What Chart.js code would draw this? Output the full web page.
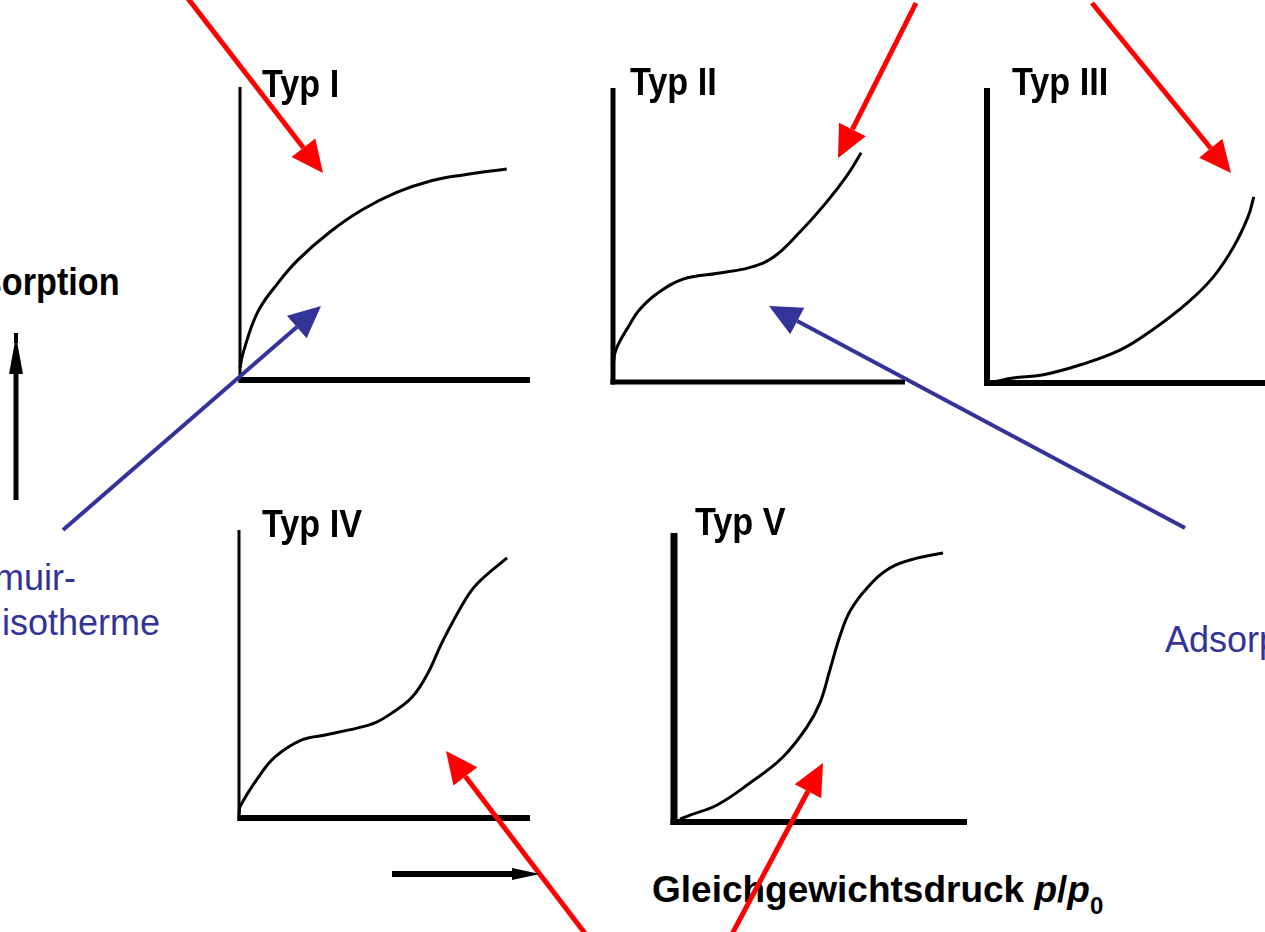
<!DOCTYPE html>
<html lang="de">
<head>
<meta charset="utf-8">
<title>Adsorptionsisothermen</title>
<script src="https://cdn.jsdelivr.net/npm/chart.js@4/dist/chart.umd.min.js"></script>
<style>
  html, body { margin: 0; padding: 0; background: #fff; }
  #bühne { position: relative; width: 1265px; height: 932px; overflow: hidden; background: #fff; }
  .panel { position: absolute; }
  .panel canvas { display: block; }
  .txt { position: absolute; white-space: nowrap; line-height: 1; font-family: "Liberation Sans", Arial, sans-serif; }
  .titel { font-size: 38px; font-weight: bold; color: #000; transform: scaleX(0.9); transform-origin: left top; }
  .blau { font-size: 36px; color: #333399; }
  #pfeile { position: absolute; left: 0; top: 0; z-index: 5; pointer-events: none; }
</style>
</head>
<body>
<div id="bühne">
  <div class="panel" id="p1"><canvas id="typ1"></canvas></div>
  <div class="panel" id="p2"><canvas id="typ2"></canvas></div>
  <div class="panel" id="p3"><canvas id="typ3"></canvas></div>
  <div class="panel" id="p4"><canvas id="typ4"></canvas></div>
  <div class="panel" id="p5"><canvas id="typ5"></canvas></div>

  <div class="txt titel" style="left:262px; top:65px;">Typ I</div>
  <div class="txt titel" style="left:630px; top:63px;">Typ II</div>
  <div class="txt titel" style="left:1012px; top:63px;">Typ III</div>
  <div class="txt titel" style="left:262px; top:505px;">Typ IV</div>
  <div class="txt titel" style="left:695px; top:503px;">Typ V</div>

  <div class="txt titel" style="right:1145px; top:263px; transform-origin:right top;">Adsorption</div>
  <div class="txt titel" style="left:652px; top:871px; font-size:37px; transform:none;">Gleichgewichtsdruck <i>p</i>/<i>p</i><sub style="font-size:24px; position:relative; top:4px;">0</sub></div>

  <div class="txt blau" style="left:-86px; top:560px;">Langmuir-</div>
  <div class="txt blau" style="left:2px; top:605px;">isotherme</div>
  <div class="txt blau" style="left:1165px; top:622px;">Adsorption</div>

  <canvas id="pfeile" width="1265" height="932"></canvas>
</div>

<script>
// Isothermen, x = p/p0, y = adsorbierte Menge (beide relativ 0..1)
const typIx = [0, 0.01, 0.06, 0.13, 0.2, 0.31, 0.42, 0.54, 0.66, 0.77, 0.92];
const typIy = [0.04, 0.09, 0.23, 0.33, 0.41, 0.505, 0.58, 0.64, 0.68, 0.70, 0.72];

const typIIx = [0, 0.01, 0.06, 0.09, 0.15, 0.24, 0.36, 0.47, 0.55, 0.64, 0.73, 0.80, 0.85];
const typIIy = [0.05, 0.11, 0.20, 0.245, 0.30, 0.35, 0.37, 0.39, 0.425, 0.51, 0.61, 0.70, 0.78];

const typIIIx = [0.03, 0.09, 0.19, 0.32, 0.46, 0.57, 0.69, 0.78, 0.85, 0.90, 0.92];
const typIIIy = [0.005, 0.017, 0.027, 0.061, 0.112, 0.18, 0.271, 0.359, 0.461, 0.563, 0.631];

const typIVx = [0, 0.003, 0.065, 0.124, 0.216, 0.296, 0.409, 0.467, 0.526, 0.595, 0.649, 0.698, 0.777, 0.821, 0.921];
const typIVy = [0.01, 0.038, 0.139, 0.212, 0.271, 0.288, 0.313, 0.330, 0.365, 0.420, 0.503, 0.61, 0.757, 0.816, 0.903];

const typVx = [0.02, 0.055, 0.147, 0.259, 0.372, 0.454, 0.498, 0.532, 0.567, 0.601, 0.659, 0.737, 0.829, 0.918];
const typVy = [0.01, 0.024, 0.059, 0.135, 0.225, 0.329, 0.412, 0.526, 0.645, 0.73, 0.810, 0.879, 0.913, 0.931];

// Lage der Diagramme (Achsenursprung links/unten) und Strichstärken der Achsen
const rand = 12;
const panels = [
  { id: 'typ1', box: 'p1', xs: typIx,   ys: typIy,   left: 240, top: 87,  w: 290, h: 293, yAchse: 3, xAchse: 6 },
  { id: 'typ2', box: 'p2', xs: typIIx,  ys: typIIy,  left: 613, top: 88,  w: 292, h: 294, yAchse: 5, xAchse: 5 },
  { id: 'typ3', box: 'p3', xs: typIIIx, ys: typIIIy, left: 987, top: 88,  w: 290, h: 295, yAchse: 6, xAchse: 6 },
  { id: 'typ4', box: 'p4', xs: typIVx,  ys: typIVy,  left: 239, top: 530, w: 291, h: 288, yAchse: 3, xAchse: 6 },
  { id: 'typ5', box: 'p5', xs: typVx,   ys: typVy,   left: 674, top: 533, w: 293, h: 289, yAchse: 7, xAchse: 6 }
];

// zeichnet die beiden Achsen am Rand der Zeichenfläche
const achsenPlugin = {
  id: 'achsen',
  beforeDatasetsDraw(chart, args, opts) {
    const ctx = chart.ctx;
    const sx = chart.scales.x, sy = chart.scales.y;
    const x0 = sx.getPixelForValue(0), x1 = sx.getPixelForValue(1);
    const y0 = sy.getPixelForValue(0), y1 = sy.getPixelForValue(1);
    ctx.save();
    ctx.strokeStyle = '#000';
    ctx.lineCap = 'butt';
    ctx.lineWidth = opts.yBreite;
    ctx.beginPath();
    ctx.moveTo(x0, y1);
    ctx.lineTo(x0, y0 + opts.xBreite / 2);
    ctx.stroke();
    ctx.lineWidth = opts.xBreite;
    ctx.beginPath();
    ctx.moveTo(x0 - opts.yBreite / 2, y0);
    ctx.lineTo(x1, y0);
    ctx.stroke();
    ctx.restore();
  }
};

panels.forEach(function (p) {
  const div = document.getElementById(p.box);
  div.style.left = (p.left - rand) + 'px';
  div.style.top = (p.top - rand) + 'px';
  const canvas = document.getElementById(p.id);
  canvas.width = p.w + 2 * rand;
  canvas.height = p.h + 2 * rand;

  const punkte = p.xs.map(function (x, i) { return { x: x, y: p.ys[i] }; });

  new Chart(canvas.getContext('2d'), {
    type: 'line',
    data: {
      datasets: [{
        data: punkte,
        borderColor: '#000',
        borderWidth: 3,
        pointRadius: 0,
        fill: false,
        tension: 0.4,
        clip: false
      }]
    },
    options: {
      responsive: false,
      animation: false,
      devicePixelRatio: 1,
      layout: { padding: rand },
      scales: {
        x: { type: 'linear', min: 0, max: 1, display: false },
        y: { type: 'linear', min: 0, max: 1, display: false }
      },
      plugins: {
        legend: { display: false },
        tooltip: { enabled: false },
        achsen: { yBreite: p.yAchse, xBreite: p.xAchse }
      }
    },
    plugins: [achsenPlugin]
  });
});

// Hinweispfeile
function pfeil(ctx, x0, y0, x1, y1, farbe, breite, kopfLaenge, kopfBreite) {
  const w = Math.atan2(y1 - y0, x1 - x0);
  const bx = x1 - kopfLaenge * Math.cos(w);
  const by = y1 - kopfLaenge * Math.sin(w);
  ctx.save();
  ctx.strokeStyle = farbe;
  ctx.fillStyle = farbe;
  ctx.lineWidth = breite;
  ctx.beginPath();
  ctx.moveTo(x0, y0);
  ctx.lineTo(bx, by);
  ctx.stroke();
  ctx.beginPath();
  ctx.moveTo(x1, y1);
  ctx.lineTo(bx + kopfBreite / 2 * Math.sin(w), by - kopfBreite / 2 * Math.cos(w));
  ctx.lineTo(bx - kopfBreite / 2 * Math.sin(w), by + kopfBreite / 2 * Math.cos(w));
  ctx.closePath();
  ctx.fill();
  ctx.restore();
}

const ctxP = document.getElementById('pfeile').getContext('2d');
const rot = '#ff0000', blau = '#333399';

pfeil(ctxP, 186, -4, 323, 173, rot, 5, 32, 30);
pfeil(ctxP, 916, 3, 838, 158, rot, 5, 32, 30);
pfeil(ctxP, 1092, 3, 1231, 173, rot, 5, 32, 30);
pfeil(ctxP, 587, 936, 446, 751, rot, 5, 32, 30);
pfeil(ctxP, 731, 936, 823, 763, rot, 5, 32, 30);

pfeil(ctxP, 63, 530, 321, 306, blau, 4, 32, 30);
pfeil(ctxP, 1185, 528, 769, 306, blau, 4, 32, 30);

// Achsenbeschriftungspfeile (Adsorption nach oben, Druck nach rechts)
pfeil(ctxP, 16, 500, 16, 336, '#000', 5, 38, 14);
ctxP.fillStyle = '#000';
ctxP.fillRect(14, 333, 4, 10);
pfeil(ctxP, 392, 874, 540, 874, '#000', 6, 28, 12);
</script>
</body>
</html>
